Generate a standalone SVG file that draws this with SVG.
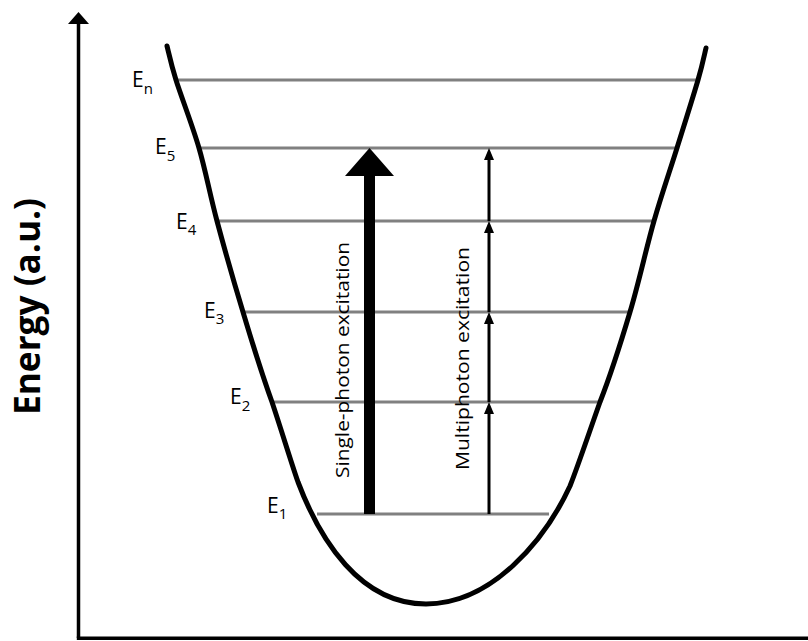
<svg xmlns="http://www.w3.org/2000/svg" width="808" height="641" viewBox="0 0 808 641">
<style>
.axis{stroke:#000;stroke-width:3.5;fill:none}
.level{stroke:#808080;stroke-width:3;fill:none}
.well{stroke:#000;stroke-width:5;fill:none;stroke-linecap:round;stroke-linejoin:round}
.lbl{font-family:"Open Sans","Liberation Sans",sans-serif;font-size:21px;fill:#000}
.sub{font-size:15px}
.rot{font-family:"Open Sans","Liberation Sans",sans-serif;font-size:18.5px;fill:#000}
.title{font-family:"Open Sans","Liberation Sans",sans-serif;font-size:35px;font-weight:bold;fill:#000}
.multi{stroke:#000;stroke-width:3;fill:none}
</style>
<defs>
<marker id="head" markerUnits="userSpaceOnUse" markerWidth="12" markerHeight="10" refX="6" refY="5" orient="auto">
<path d="M0,0 L12,5 L0,10 z" fill="#000"/>
</marker>
</defs>
<rect width="808" height="641" fill="#fff"/>
<g id="axes">
<line class="axis" x1="78.5" y1="638" x2="78.5" y2="20"/>
<polygon points="78.5,12 68,24 89,24" fill="#000"/>
<line class="axis" x1="76.8" y1="638.3" x2="808" y2="638.3"/>
<text class="title" transform="translate(40,306.5) rotate(-90)" text-anchor="middle" textLength="217" lengthAdjust="spacingAndGlyphs">Energy (a.u.)</text>
</g>
<g id="levels">
<line class="level" x1="176" y1="80" x2="698" y2="80"/>
<line class="level" x1="199" y1="148" x2="677" y2="148"/>
<line class="level" x1="217" y1="221" x2="654" y2="221"/>
<line class="level" x1="243" y1="312" x2="630" y2="312"/>
<line class="level" x1="272" y1="402" x2="600" y2="402"/>
<line class="level" x1="317" y1="514" x2="549" y2="514"/>
</g>
<g id="well">
<path class="well" d="M167,46 C168.5,51.67 170.67,63 176,80 C181.33,97 192.17,124.5 199,148 C205.83,171.5 209.67,193.67 217,221 C224.33,248.33 233.83,281.83 243,312 C252.17,342.17 259.83,368.33 272,402 C282,432 292,465 298,482 C320,540 360,604 426,604 C492,604 545,540 570,486 C578,466 590,430 600,402 C613.17,368.33 621,342.17 630,312 C639,281.83 646.17,248.33 654,221 C661.83,193.67 669.67,171.5 677,148 C684.33,124.5 693.17,96.67 698,80 C702.83,63.33 704.67,53.33 706,48"/>
</g>
<g id="labels">
<text class="lbl" x="132" y="87">E<tspan class="sub" dy="7">n</tspan></text>
<text class="lbl" x="155" y="154">E<tspan class="sub" dy="7">5</tspan></text>
<text class="lbl" x="176" y="229">E<tspan class="sub" dy="6">4</tspan></text>
<text class="lbl" x="204" y="318">E<tspan class="sub" dy="6">3</tspan></text>
<text class="lbl" x="230" y="404">E<tspan class="sub" dy="7">2</tspan></text>
<text class="lbl" x="267" y="513">E<tspan class="sub" dy="6">1</tspan></text>
</g>
<g id="single-photon">
<rect x="364" y="174" width="11" height="340" fill="#000"/>
<polygon points="369.5,148 345,176 394,176" fill="#000"/>
<text class="rot" transform="translate(349,360) rotate(-90)" text-anchor="middle" textLength="236" lengthAdjust="spacingAndGlyphs">Single-photon excitation</text>
</g>
<g id="multiphoton">
<text class="rot" transform="translate(469,358.5) rotate(-90)" text-anchor="middle" textLength="223" lengthAdjust="spacingAndGlyphs">Multiphoton excitation</text>
</g>
<g id="connectors">
<line class="multi" x1="489" y1="514" x2="489" y2="408" marker-end="url(#head)"/>
<line class="multi" x1="489" y1="402" x2="489" y2="318" marker-end="url(#head)"/>
<line class="multi" x1="489" y1="312" x2="489" y2="227" marker-end="url(#head)"/>
<line class="multi" x1="489" y1="221" x2="489" y2="154" marker-end="url(#head)"/>
</g>
</svg>
